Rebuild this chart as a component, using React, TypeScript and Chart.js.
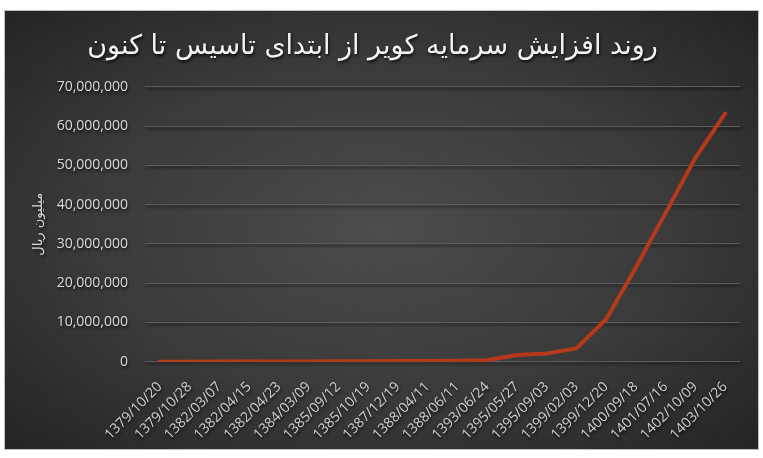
import React, { useEffect, useRef } from 'react';
import { Chart, registerables } from 'chart.js';

Chart.register(...registerables);

const titleText = 'روند افزایش سرمایه کویر از ابتدای تاسیس تا کنون';
const yAxisTitle = 'میلیون ریال';

const categories = [
  '1379/10/20', '1379/10/28', '1382/03/07', '1382/04/15', '1382/04/23',
  '1384/03/09', '1385/09/12', '1385/10/19', '1387/12/19', '1388/04/11',
  '1388/06/11', '1393/06/24', '1395/05/27', '1395/09/03', '1399/02/03',
  '1399/12/20', '1400/09/18', '1401/07/16', '1402/10/09', '1403/10/26',
];

const capitalValues = [
  3000, 6000, 20000, 40000, 50000,
  80000, 100000, 120000, 150000, 200000,
  250000, 350000, 1700000, 2100000, 3400000,
  10800000, 24000000, 37900000, 51900000, 63200000,
];

const yMin = 0;
const yMax = 70000000;
const yStep = 10000000;

const titleShadow = {
  id: 'titleShadow',
  beforeDraw(chart: any) {
    chart.ctx.save();
    chart.ctx.shadowColor = 'rgba(0,0,0,0.75)';
    chart.ctx.shadowBlur = 3;
    chart.ctx.shadowOffsetX = 1;
    chart.ctx.shadowOffsetY = 2;
  },
  beforeDatasetsDraw(chart: any) {
    chart.ctx.restore();
  },
};

export default function App() {
  const ref = useRef<HTMLCanvasElement>(null);

  useEffect(() => {
    if (!ref.current) return;
    const chart = new Chart(ref.current, {
      type: 'line',
      data: {
        labels: categories,
        datasets: [
          {
            data: capitalValues,
            borderColor: '#B5391A',
            backgroundColor: '#B5391A',
            borderWidth: 4,
            pointRadius: 0,
            tension: 0,
            fill: false,
            borderJoinStyle: 'round',
            borderCapStyle: 'round',
          },
        ],
      },
      options: {
        responsive: false,
        animation: false,
        layout: { padding: { top: 0, right: 18, bottom: 0, left: 0 } },
        plugins: {
          legend: { display: false },
          tooltip: { enabled: false },
          title: {
            display: true,
            text: titleText,
            color: '#f4f4f4',
            font: { family: 'DejaVu Sans', size: 27, weight: 'normal', lineHeight: 1.2 },
            padding: { top: 19.4, bottom: 24 },
          },
        },
        scales: {
          x: {
            type: 'category',
            offset: true,
            grid: { display: false },
            border: { display: false },
            ticks: {
              autoSkip: false,
              minRotation: 45,
              maxRotation: 45,
              padding: 9,
              color: '#d0d0d0',
              font: { family: 'Open Sans', size: 14 },
            },
            afterFit: (s: any) => {
              s.height = 87.3;
            },
          },
          y: {
            min: yMin,
            max: yMax,
            border: { display: false },
            grid: { color: '#5c5c5c', lineWidth: 1, drawTicks: false },
            ticks: {
              stepSize: yStep,
              padding: 17,
              color: '#d9d9d9',
              font: { family: 'Open Sans', size: 14 },
              callback: (v: any) => Number(v).toLocaleString('en-US'),
            },
            title: {
              display: true,
              text: yAxisTitle,
              color: '#d9d9d9',
              font: { family: 'DejaVu Sans', size: 13 },
              padding: { top: 26, bottom: 0 },
            },
            afterFit: (s: any) => {
              s.width = 140;
            },
          },
        },
      },
      plugins: [titleShadow],
    });
    return () => chart.destroy();
  }, []);

  return (
    <div
      style={{
        position: 'absolute',
        left: 4,
        top: 10,
        width: 753,
        height: 438,
        border: '1px solid #bfbfbf',
        background: 'radial-gradient(ellipse at 50% 50%, #4c4c4c 0%, #3a3a3a 55%, #242424 100%)',
      }}
    >
      <canvas ref={ref} width={753} height={438} style={{ display: 'block' }} />
    </div>
  );
}
